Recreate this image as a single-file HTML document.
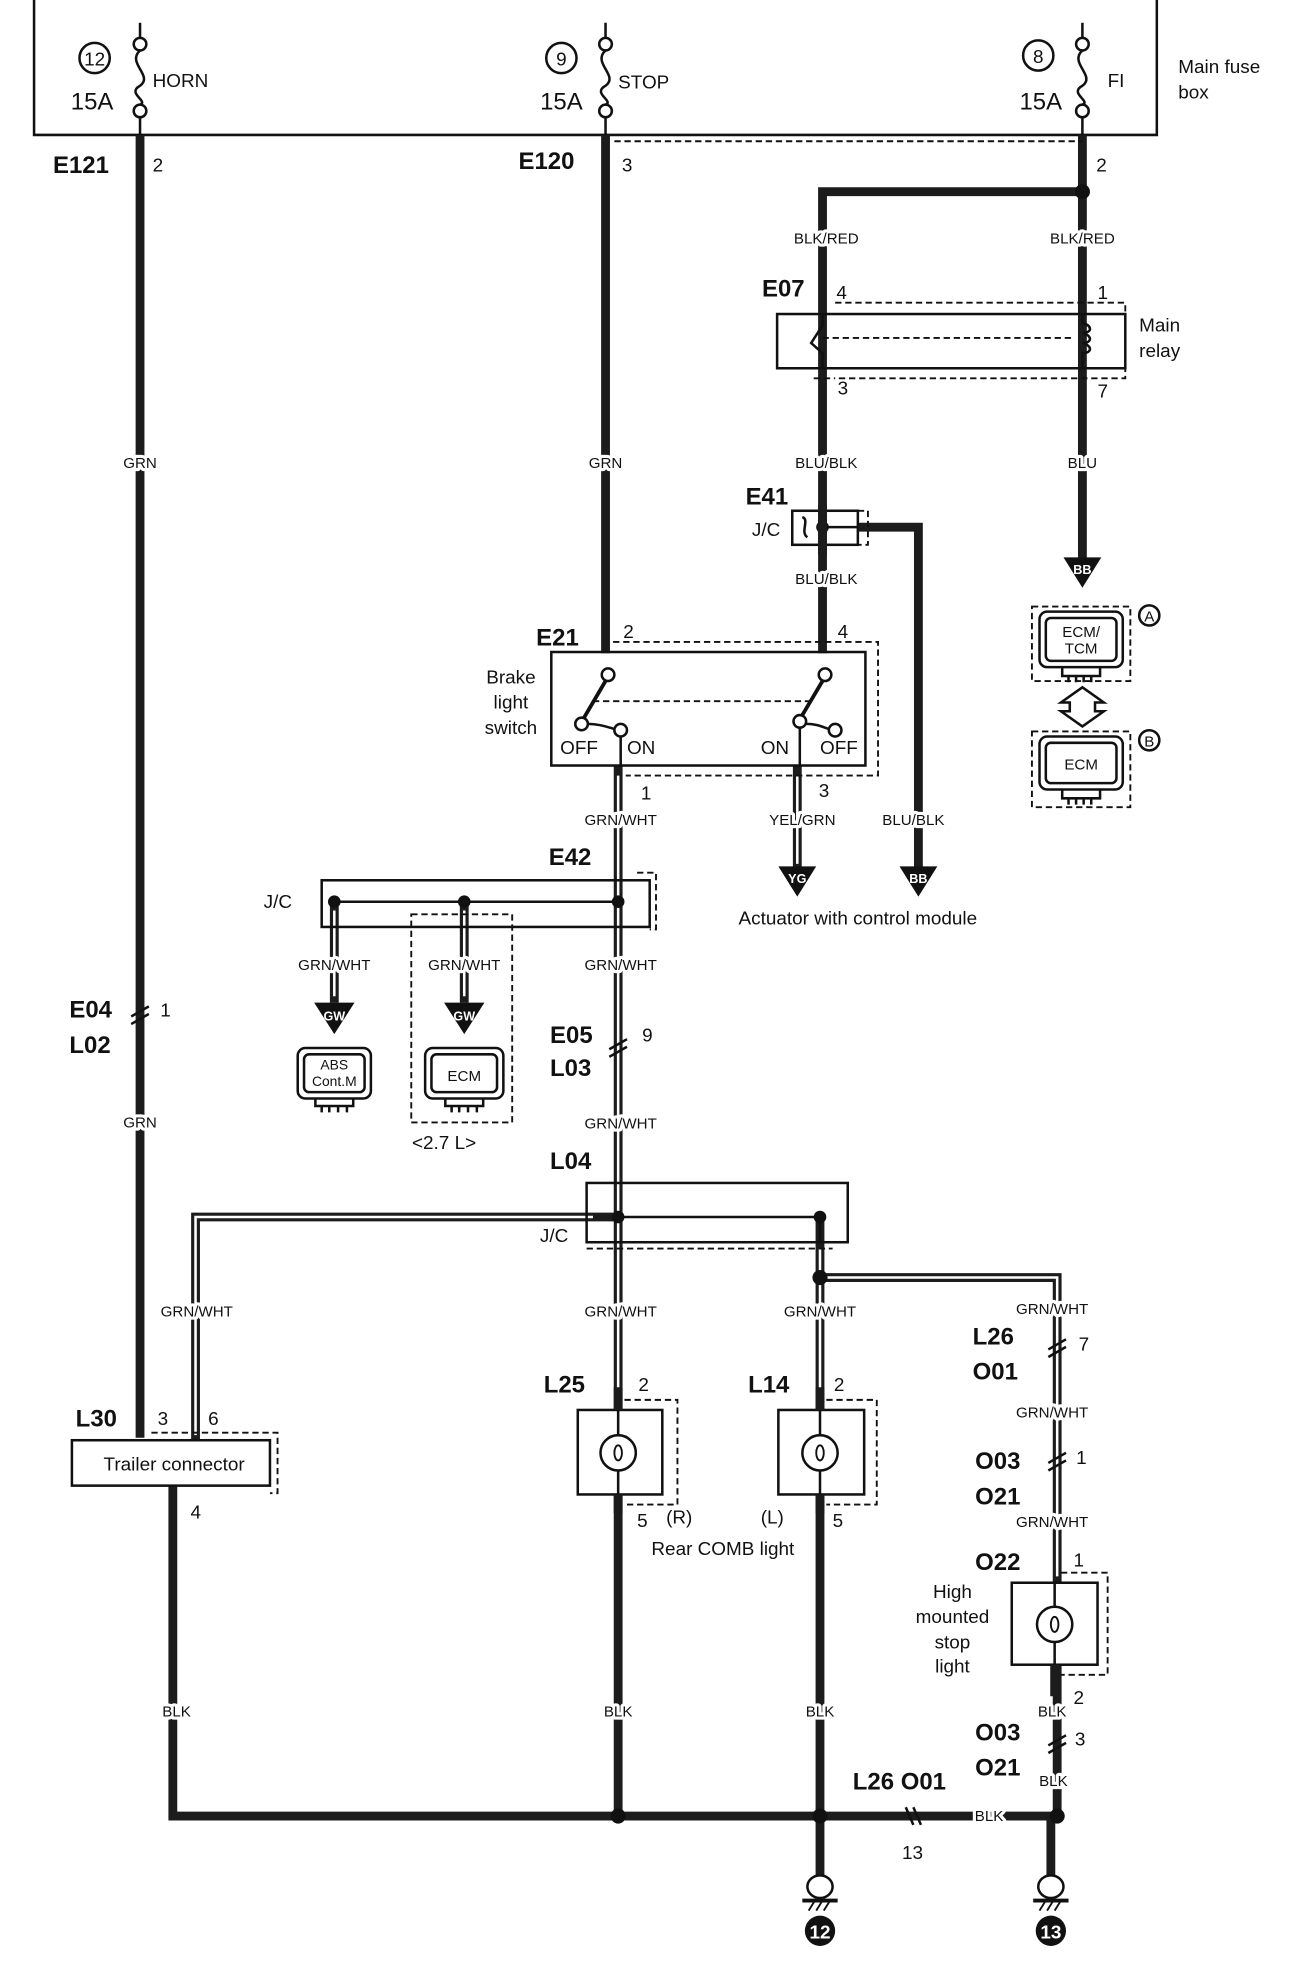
<!DOCTYPE html>
<html><head><meta charset="utf-8"><style>
html,body{margin:0;padding:0;background:#fff}
svg{display:block}
text{font-family:"Liberation Sans Narrow","Liberation Sans",sans-serif;fill:#111}
.s{font-size:12px;paint-order:stroke;stroke:#fff;stroke-width:5px;stroke-linejoin:round}
.b{font-size:19px;font-weight:bold;font-family:"Liberation Sans",sans-serif}
.n{font-size:15px;font-family:"Liberation Sans",sans-serif}
.m{font-size:15px}
.w{stroke:#1c1c1c;stroke-width:7;fill:none}
.c{stroke:#fff;stroke-width:2;fill:none}
.l{stroke:#111;stroke-width:2;fill:none}
.d{stroke:#111;stroke-width:1.5;fill:none;stroke-dasharray:5,3}
</style></head><body>
<svg width="1312" height="1980" viewBox="0 0 1040 1570" preserveAspectRatio="none" xmlns="http://www.w3.org/2000/svg">
<rect width="1040" height="1570" fill="#fff"/>
<!-- fuse box -->
<path class="l" d="M27,0 V107 H917 V0"/>
<g class="l">
<path d="M111,18 V30 M480,18 V30 M858,18 V30"/>
<circle cx="111" cy="35" r="5" fill="#fff"/><circle cx="111" cy="88" r="5" fill="#fff"/>
<circle cx="480" cy="35" r="5" fill="#fff"/><circle cx="480" cy="88" r="5" fill="#fff"/>
<circle cx="858" cy="35" r="5" fill="#fff"/><circle cx="858" cy="88" r="5" fill="#fff"/>
<path d="M111,40 C100,50 122,60 111,68 C100,74 118,80 111,83"/>
<path d="M480,40 C469,50 491,60 480,68 C469,74 487,80 480,83"/>
<path d="M858,40 C847,50 869,60 858,68 C847,74 865,80 858,83"/>
<path d="M111,93 V107 M480,93 V107 M858,93 V107"/>
<circle cx="75" cy="46" r="12"/><circle cx="445" cy="46" r="12"/><circle cx="823" cy="44" r="12"/>
</g>
<text x="75" y="52" class="n" text-anchor="middle">12</text>
<text x="445" y="52" class="n" text-anchor="middle">9</text>
<text x="823" y="50" class="n" text-anchor="middle">8</text>
<text x="73" y="87" class="b" font-weight="normal" text-anchor="middle" style="font-weight:normal">15A</text>
<text x="445" y="87" class="b" text-anchor="middle" style="font-weight:normal">15A</text>
<text x="825" y="87" class="b" text-anchor="middle" style="font-weight:normal">15A</text>
<text x="121" y="69" class="m" font-size="13">HORN</text>
<text x="490" y="70" class="m" font-size="13">STOP</text>
<text x="878" y="69" class="m" font-size="13">FI</text>
<text x="934" y="58" class="m">Main fuse</text>
<text x="934" y="78" class="m">box</text>

<!-- wires -->
<g class="w">
<path d="M111,107 V1140"/>
<path d="M480,107 V518"/>
<path d="M858,107 V445"/>
<path d="M858,152 H652 V518"/>
<path d="M680,418 H728 V690"/>
<path d="M490,607 V1440"/>
<path d="M632,607 V690"/>
<path d="M265,715 V795 M368,715 V795"/>
<path d="M155,1142 V965 H490"/>
<path d="M650,965 V1440"/>
<path d="M650,1013 H838 V1440"/>
<path d="M137,1178 V1440 H838"/>
<path d="M650,1440 V1490 M833,1440 V1490"/>
</g>
<g class="c">
<path d="M490,615 V1118"/>
<path d="M632,615 V685"/>
<path d="M265,722 V790 M368,722 V790"/>
<path d="M155,1138 V965 H470"/>
<path d="M650,990 V1118"/>
<path d="M655,1013 H838 V1250"/>
</g>
<circle cx="858" cy="152" r="6" fill="#111"/>
<circle cx="490" cy="1440" r="6" fill="#111"/>
<circle cx="650" cy="1440" r="6" fill="#111"/>
<circle cx="838" cy="1440" r="6" fill="#111"/>
<circle cx="650" cy="1013" r="6" fill="#111"/>
<path class="d" d="M487,112 H858"/>

<!-- wire labels -->
<g class="s" text-anchor="middle">
<text x="111" y="371">GRN</text><text x="480" y="371">GRN</text>
<text x="655" y="193">BLK/RED</text><text x="858" y="193">BLK/RED</text>
<text x="655" y="371">BLU/BLK</text><text x="858" y="371">BLU</text>
<text x="655" y="463">BLU/BLK</text>
<text x="492" y="654">GRN/WHT</text><text x="636" y="654">YEL/GRN</text><text x="724" y="654">BLU/BLK</text>
<text x="265" y="769">GRN/WHT</text><text x="368" y="769">GRN/WHT</text><text x="492" y="769">GRN/WHT</text>
<text x="111" y="894">GRN</text><text x="492" y="895">GRN/WHT</text>
<text x="156" y="1044">GRN/WHT</text><text x="492" y="1044">GRN/WHT</text><text x="650" y="1044">GRN/WHT</text>
<text x="834" y="1042">GRN/WHT</text><text x="834" y="1124">GRN/WHT</text><text x="834" y="1211">GRN/WHT</text>
<text x="140" y="1361">BLK</text><text x="490" y="1361">BLK</text><text x="650" y="1361">BLK</text>
<text x="834" y="1361">BLK</text><text x="835" y="1416">BLK</text><text x="784" y="1444">BLK</text>
</g>

<!-- connector labels -->
<g class="b">
<text x="42" y="137">E121</text><text x="411" y="134">E120</text>
<text x="604" y="235">E07</text><text x="591" y="400">E41</text>
<text x="425" y="512">E21</text><text x="435" y="686">E42</text>
<text x="55" y="807">E04</text><text x="55" y="835">L02</text>
<text x="436" y="827">E05</text><text x="436" y="853">L03</text>
<text x="436" y="927">L04</text>
<text x="60" y="1131">L30</text><text x="431" y="1104">L25</text><text x="593" y="1104">L14</text>
<text x="771" y="1066">L26</text><text x="771" y="1094">O01</text>
<text x="773" y="1165">O03</text><text x="773" y="1193">O21</text>
<text x="773" y="1245">O22</text>
<text x="773" y="1380">O03</text><text x="773" y="1408">O21</text>
<text x="676" y="1419">L26 O01</text>
</g>
<g class="n">
<text x="121" y="136">2</text><text x="493" y="136">3</text><text x="869" y="136">2</text>
<text x="663" y="237">4</text><text x="870" y="237">1</text><text x="664" y="313">3</text><text x="870" y="315">7</text>
<text x="494" y="506">2</text><text x="664" y="506">4</text><text x="508" y="634">1</text><text x="649" y="632">3</text>
<text x="127" y="806">1</text><text x="509" y="826">9</text>
<text x="125" y="1130">3</text><text x="165" y="1130">6</text><text x="151" y="1204">4</text>
<text x="506" y="1103">2</text><text x="661" y="1103">2</text><text x="505" y="1211">5</text><text x="660" y="1211">5</text>
<text x="855" y="1071">7</text><text x="853" y="1161">1</text><text x="851" y="1242">1</text><text x="851" y="1351">2</text><text x="852" y="1384">3</text>
<text x="715" y="1474">13</text>
</g>

<!-- main relay -->
<rect x="616" y="249" width="276" height="43" class="l"/>
<path class="d" d="M662,240 H892 V300 H662 M645,300 H662"/>
<path class="l" d="M652,249 V258 L643,272 L652,280 V292"/>
<path class="d" d="M652,268 H850"/>
<path class="l" d="M858,249 V256 C866,258 866,264 858,264 C866,266 866,272 858,272 C866,274 866,280 858,280 V292"/>
<text x="903" y="263" class="m">Main</text><text x="903" y="283" class="m">relay</text>
<!-- E41 J/C -->
<rect x="628" y="405" width="52" height="27" class="l"/>
<path class="d" d="M680,405 H688 V432 H680"/>
<circle cx="652" cy="418" r="5" fill="#111"/>
<path class="l" d="M636,410 C642,412 634,422 640,426 M652,418 H680"/>
<text x="596" y="425" class="m">J/C</text>
<path class="w" d="M652,400 V440"/>
<!-- BB arrows -->
<path d="M843,442 H873 L858,466 Z" fill="#111"/>
<text x="858" y="455" font-size="10" fill="#fff" text-anchor="middle" style="fill:#fff;font-weight:bold">BB</text>
<path d="M713,687 H743 L728,711 Z" fill="#111"/>
<text x="728" y="700" font-size="10" text-anchor="middle" style="fill:#fff;font-weight:bold">BB</text>
<path d="M617,687 H647 L632,711 Z" fill="#111"/>
<text x="632" y="700" font-size="10" text-anchor="middle" style="fill:#fff;font-weight:bold">YG</text>
<text x="680" y="733" class="m" text-anchor="middle">Actuator with control module</text>
<!-- ECM A/B -->
<path class="d" d="M818,481 H896 V540 H818 Z"/>
<rect x="824" y="485" width="66" height="44" rx="6" class="l"/>
<rect x="829" y="490" width="56" height="34" rx="4" class="l" stroke-width="1.2"/>
<text x="857" y="505" font-size="12" text-anchor="middle">ECM/</text><text x="857" y="518" font-size="12" text-anchor="middle">TCM</text>
<path class="l" d="M842,529 V536 H872 V529 M847,536 V541 M853,536 V541 M859,536 V541 M865,536 V541" stroke-width="1.3"/>
<circle cx="911" cy="488" r="8" class="l" stroke-width="1.3"/><text x="911" y="493" font-size="12" text-anchor="middle">A</text>
<path class="l" stroke-width="1.3" d="M858,545 L875,557 H868 V564 H875 L858,576 L841,564 H848 V557 H841 Z"/>
<path class="d" d="M818,580 H896 V640 H818 Z"/>
<rect x="824" y="584" width="66" height="42" rx="6" class="l"/>
<rect x="829" y="589" width="56" height="32" rx="4" class="l" stroke-width="1.2"/>
<text x="857" y="610" font-size="12" text-anchor="middle">ECM</text>
<path class="l" d="M842,626 V633 H872 V626 M847,633 V638 M853,633 V638 M859,633 V638 M865,633 V638" stroke-width="1.3"/>
<circle cx="911" cy="587" r="8" class="l" stroke-width="1.3"/><text x="911" y="592" font-size="12" text-anchor="middle">B</text>
<!-- brake light switch -->
<rect x="437" y="517" width="249" height="90" class="l"/>
<path class="d" d="M486,509 H696 V615 H496"/>
<g class="l">
<circle cx="482" cy="535" r="5" fill="#fff"/><circle cx="461" cy="574" r="5" fill="#fff"/><circle cx="492" cy="579" r="5" fill="#fff"/>
<path d="M480,540 L463,569" stroke-width="3"/><path d="M466,574 C474,574 480,576 487,578 M492,584 V607"/>
<circle cx="654" cy="535" r="5" fill="#fff"/><circle cx="634" cy="572" r="5" fill="#fff"/><circle cx="662" cy="579" r="5" fill="#fff"/>
<path d="M652,540 L636,567" stroke-width="3"/><path d="M639,574 C647,574 651,576 657,578 M634,577 V607"/>
</g>
<path class="d" d="M470,556 H642"/>
<text x="405" y="542" class="m" text-anchor="middle">Brake</text><text x="405" y="562" class="m" text-anchor="middle">light</text><text x="405" y="582" class="m" text-anchor="middle">switch</text>
<text x="444" y="598" class="m">OFF</text><text x="497" y="598" class="m">ON</text><text x="603" y="598" class="m">ON</text><text x="650" y="598" class="m">OFF</text>
<!-- E42 J/C -->
<rect x="255" y="698" width="260" height="37" class="l"/>
<path class="d" d="M505,692 H520 V737 H515"/>
<path class="l" stroke-width="1.5" d="M265,715 H490"/>
<circle cx="265" cy="715" r="5" fill="#111"/><circle cx="368" cy="715" r="5" fill="#111"/><circle cx="490" cy="715" r="5" fill="#111"/>
<text x="209" y="720" class="m">J/C</text>
<path d="M249,795 H281 L265,820 Z M352,795 H384 L368,820 Z" fill="#111"/>
<text x="265" y="809" font-size="10" text-anchor="middle" style="fill:#fff;font-weight:bold">GW</text>
<text x="368" y="809" font-size="10" text-anchor="middle" style="fill:#fff;font-weight:bold">GW</text>
<path class="d" d="M326,725 H406 V890 H326 Z" stroke-dasharray="8,4"/>
<rect x="236" y="831" width="58" height="40" rx="6" class="l"/>
<rect x="241" y="836" width="48" height="30" rx="4" class="l" stroke-width="1.2"/>
<text x="265" y="848" font-size="11" text-anchor="middle">ABS</text><text x="265" y="861" font-size="11" text-anchor="middle">Cont.M</text>
<path class="l" stroke-width="1.3" d="M250,871 V877 H280 V871 M255,877 V882 M261,877 V882 M268,877 V882 M275,877 V882"/>
<rect x="337" y="831" width="62" height="40" rx="6" class="l"/>
<rect x="342" y="836" width="52" height="30" rx="4" class="l" stroke-width="1.2"/>
<text x="368" y="857" font-size="12" text-anchor="middle">ECM</text>
<path class="l" stroke-width="1.3" d="M353,871 V877 H383 V871 M358,877 V882 M364,877 V882 M371,877 V882 M378,877 V882"/>
<text x="352" y="911" class="m" text-anchor="middle">&lt;2.7 L&gt;</text>
<!-- L04 J/C -->
<rect x="465" y="938" width="207" height="47" class="l"/>
<path class="l" stroke-width="1.5" d="M490,965 H650 V985"/>
<circle cx="490" cy="965" r="5" fill="#111"/><circle cx="650" cy="965" r="5" fill="#111"/>
<path class="d" d="M465,990 H660"/>
<text x="428" y="985" class="m">J/C</text>
<!-- Trailer connector -->
<rect x="57" y="1142" width="157" height="36" class="l"/>
<path class="d" d="M120,1136 H220 V1184 H214"/>
<text x="138" y="1166" class="m" text-anchor="middle">Trailer connector</text>
<!-- lamps -->
<g class="l">
<rect x="458" y="1118" width="67" height="67" fill="#fff"/>
<path d="M490,1118 V1185"/><circle cx="490" cy="1152" r="14" fill="#fff"/><ellipse cx="490" cy="1152" rx="3" ry="6" stroke-width="1.5"/>
<rect x="617" y="1118" width="68" height="67" fill="#fff"/>
<path d="M650,1118 V1185"/><circle cx="650" cy="1152" r="14" fill="#fff"/><ellipse cx="650" cy="1152" rx="3" ry="6" stroke-width="1.5"/>
<rect x="802" y="1255" width="68" height="65" fill="#fff"/>
<path d="M836,1255 V1320"/><circle cx="836" cy="1288" r="14" fill="#fff"/><ellipse cx="836" cy="1288" rx="3" ry="6" stroke-width="1.5"/>
</g>
<path class="d" d="M495,1110 H537 V1193 H495"/>
<path class="d" d="M655,1110 H695 V1193 H655"/>
<path class="d" d="M841,1247 H878 V1328 H841"/>
<path class="w" d="M490,1100 V1118 M490,1185 V1200 M650,1100 V1118 M650,1185 V1200 M836,1320 V1345"/>
<text x="528" y="1208" class="m">(R)</text><text x="603" y="1208" class="m">(L)</text>
<text x="573" y="1233" class="m" text-anchor="middle">Rear COMB light</text>
<text x="755" y="1267" class="m" text-anchor="middle">High</text><text x="755" y="1287" class="m" text-anchor="middle">mounted</text>
<text x="755" y="1307" class="m" text-anchor="middle">stop</text><text x="755" y="1326" class="m" text-anchor="middle">light</text>
<!-- splice marks -->
<path class="l" stroke-width="1.5" d="M104,806 l14,-8 M104,812 l14,-8 M483,832 l14,-8 M483,838 l14,-8 M831,1070 l14,-8 M831,1076 l14,-8 M831,1160 l14,-8 M831,1166 l14,-8 M831,1384 l14,-8 M831,1390 l14,-8 M718,1433 l6,14 M724,1433 l6,14"/>
<!-- grounds -->
<g class="l">
<ellipse cx="650" cy="1496" rx="10" ry="9" fill="#fff"/>
<path d="M636,1507 H664" stroke-width="3"/><path d="M641,1515 l5,-8 M647,1515 l5,-8 M653,1515 l5,-8" stroke-width="1.5"/>
<ellipse cx="833" cy="1496" rx="10" ry="9" fill="#fff"/>
<path d="M819,1507 H847" stroke-width="3"/><path d="M824,1515 l5,-8 M830,1515 l5,-8 M836,1515 l5,-8" stroke-width="1.5"/>
</g>
<circle cx="650" cy="1531" r="12" fill="#111"/><circle cx="833" cy="1531" r="12" fill="#111"/>
<text x="650" y="1537" font-size="15" font-weight="bold" text-anchor="middle" style="fill:#fff">12</text>
<text x="833" y="1537" font-size="15" font-weight="bold" text-anchor="middle" style="fill:#fff">13</text>
</svg>
</body></html>
